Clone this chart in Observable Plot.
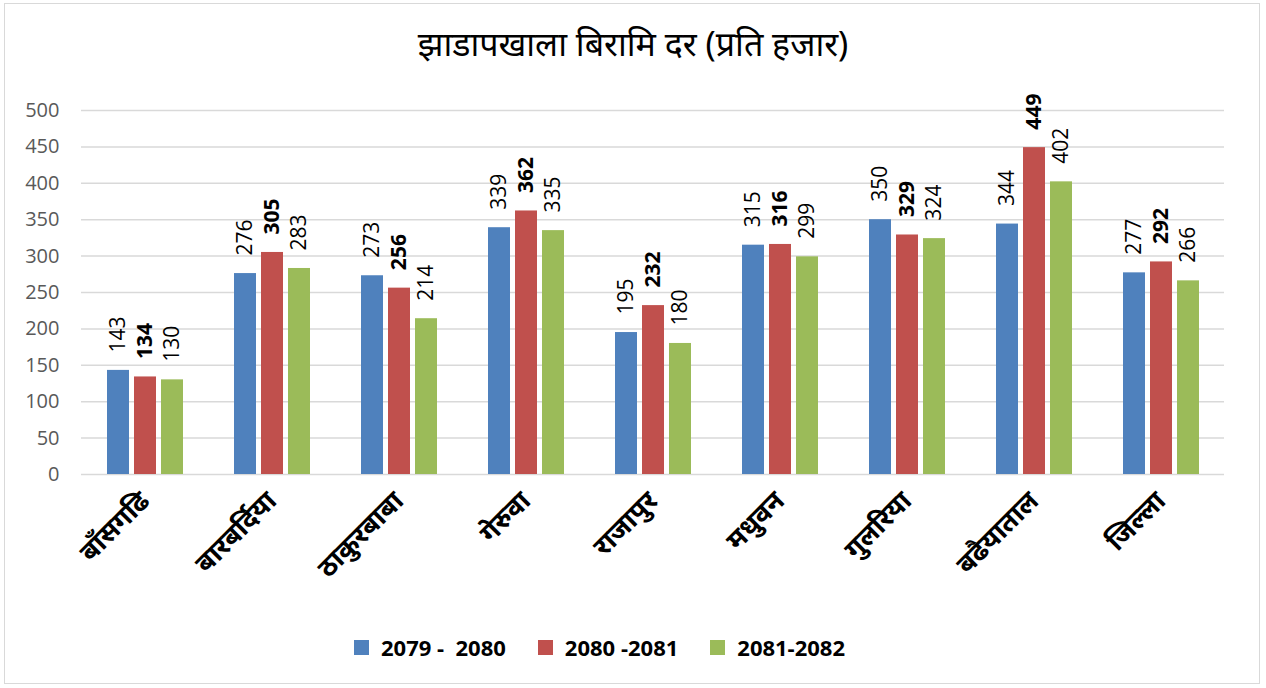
<!DOCTYPE html>
<html>
<head>
<meta charset="utf-8">
<script src="https://cdn.jsdelivr.net/npm/d3@7"></script>
<script src="https://cdn.jsdelivr.net/npm/@observablehq/plot@0.6"></script>
<style>
  html, body { margin: 0; padding: 0; background: #fff; }
  #wrap { position: relative; width: 1266px; height: 688px; overflow: hidden; }
  #border { position: absolute; left: 4px; top: 3px; width: 1256px; height: 681px; border: 1px solid #d9d9d9; box-sizing: border-box; }
  #title { position: absolute; left: 0; top: 20px; width: 1266px; text-align: center; font-family: "Noto Sans", "Liberation Serif", serif; font-size: 34px; color: #000; }
  #chart { position: absolute; left: 0; top: 85px; }
  #legend { position: absolute; left: 354px; top: 632px; display: flex; font-family: "Open Sans", sans-serif; font-weight: bold; font-size: 22px; color: #000; }
  .item { display: flex; align-items: center; margin-right: 32px; white-space: pre; }
  .sw { width: 15px; height: 15px; margin-right: 12px; }
  #chart svg g[aria-label^="fx-axis"] text { font-family: "Noto Sans", sans-serif; font-size: 27px; font-weight: bold; fill: #000; }
  #chart svg g[aria-label^="y-axis"] text { font-family: "Open Sans", sans-serif; font-size: 20px; fill: #595959; }
</style>
</head>
<body>
<div id="wrap">
  <div id="border"></div>
  <div id="title"></div>
  <div id="chart"></div>
  <div id="legend"></div>
</div>
<script>
const titleText = "झाडापखाला बिरामि दर (प्रति हजार)";
const categories = ["बाँसगढि", "बारबर्दिया", "ठाकुरबाबा", "गेरुवा", "राजापुर", "मधुवन", "गुलरिया", "बढैयाताल", "जिल्ला"];
const seriesNames = ["2079 -  2080", "2080 -2081", "2081-2082"];
const values2079 = [143, 276, 273, 339, 195, 315, 350, 344, 277];
const values2080 = [134, 305, 256, 362, 232, 316, 329, 449, 292];
const values2081 = [130, 283, 214, 335, 180, 299, 324, 402, 266];
const colors = ["#4F81BD", "#C0504D", "#9BBB59"];
const yTicks = [0, 50, 100, 150, 200, 250, 300, 350, 400, 450, 500];

const allValues = [values2079, values2080, values2081];
const data = [];
categories.forEach((c, i) => {
  seriesNames.forEach((s, j) => {
    data.push({cat: c, series: s, value: allValues[j][i]});
  });
});

document.getElementById("title").textContent = titleText;

const chart = Plot.plot({
  width: 1266,
  height: 504,
  marginTop: 25,
  marginBottom: 115,
  marginLeft: 80,
  marginRight: 42,
  style: {background: "transparent", overflow: "visible"},
  fx: {domain: categories, paddingInner: 0, paddingOuter: 0, label: null, tickRotate: -45, tickSize: 0, tickPadding: 22},
  x: {domain: seriesNames, paddingInner: 0.2, paddingOuter: 0.87, axis: null},
  y: {domain: [0, 500], ticks: yTicks, tickSize: 0, tickPadding: 22, label: null, tickFormat: d => String(d)},
  color: {domain: seriesNames, range: colors},
  marks: [
    Plot.ruleY(yTicks, {stroke: "#d9d9d9", strokeWidth: 1.5}),
    Plot.barY(data, {fx: "cat", x: "series", y: "value", fill: "series", inset: 0}),
    Plot.text(data.filter(d => d.series !== seriesNames[1]), {fx: "cat", x: "series", y: "value", text: d => String(d.value), rotate: -90, textAnchor: "start", dy: -18, fontSize: 21, fontFamily: "Open Sans", fill: "#000"}),
    Plot.text(data.filter(d => d.series === seriesNames[1]), {fx: "cat", x: "series", y: "value", text: d => String(d.value), rotate: -90, textAnchor: "start", dy: -18, fontSize: 21, fontWeight: "bold", fontFamily: "Open Sans", fill: "#000"})
  ]
});
document.getElementById("chart").appendChild(chart);

const legend = document.getElementById("legend");
seriesNames.forEach((s, i) => {
  const item = document.createElement("div");
  item.className = "item";
  const sw = document.createElement("div");
  sw.className = "sw";
  sw.style.background = colors[i];
  const t = document.createElement("span");
  t.textContent = s;
  item.appendChild(sw);
  item.appendChild(t);
  legend.appendChild(item);
});
</script>
</body>
</html>
